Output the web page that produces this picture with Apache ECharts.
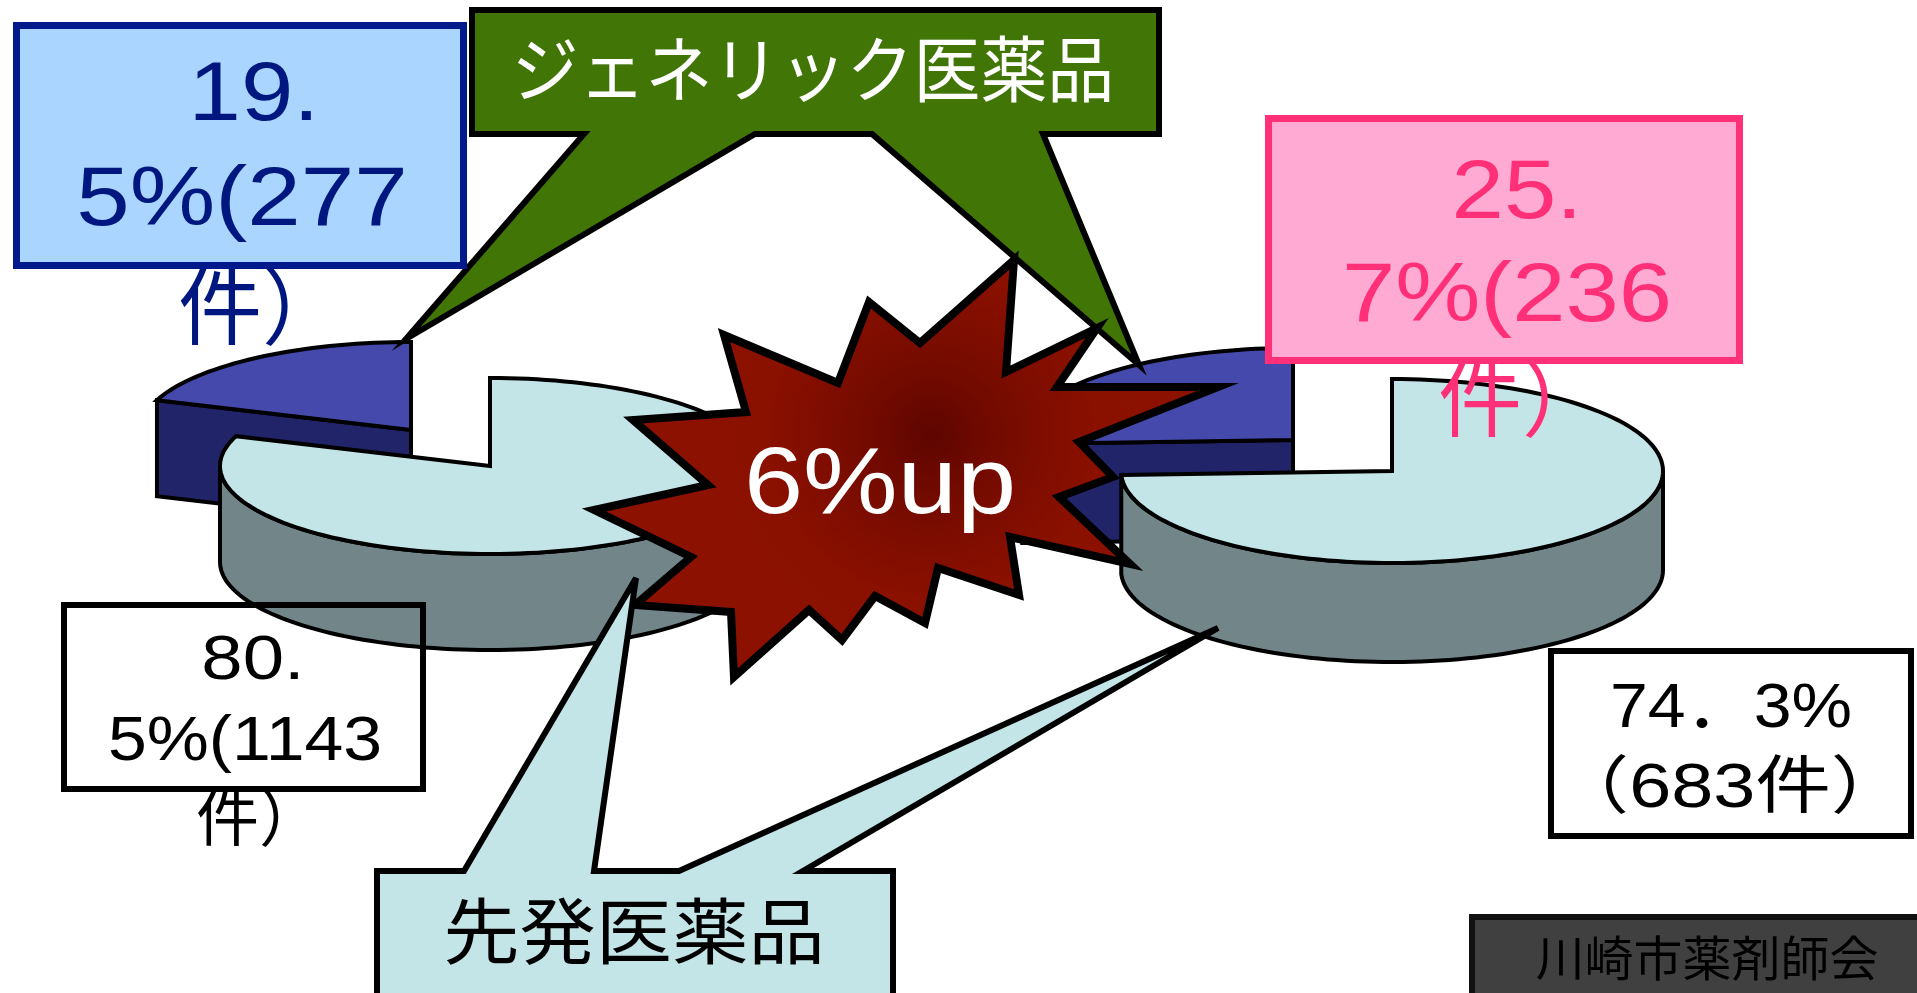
<!DOCTYPE html>
<html><head><meta charset="utf-8">
<style>html,body{margin:0;padding:0;background:#fff}#c{width:1917px;height:993px}</style>
<script src="https://cdn.jsdelivr.net/npm/echarts@6/dist/echarts.min.js"></script>
</head><body><div id="c"></div>
<script>
// ---- values ----
const pies = ['left', 'right'];
const categories = ['ジェネリック医薬品', '先発医薬品'];
const genericShare = [19.5, 25.7];
const brandShare = [80.5, 74.3];
const genericCount = [277, 236];
const brandCount = [1143, 683];
const upLabel = '6%up';
const sourceLabel = '川崎市薬剤師会';

// ---- layout ----
const geom = {
  left:  { main:{cx:490,cy:466}, small:{cx:411,cy:430}, rx:270, ry:88, depth:96 },
  right: { main:{cx:1392,cy:471}, small:{cx:1293,cy:440}, rx:271, ry:92, depth:99 }
};
const COL = { mainTop:'#c4e5e8', mainSide:'#72868a', smallTop:'#4449ab', smallSide:'#22246a' };
const FONT = '"Liberation Sans","Noto Sans CJK JP",sans-serif';

function pt(c, g, deg, drop) {
  const t = deg * Math.PI / 180;
  return [c.cx + g.rx * Math.sin(t), c.cy - g.ry * Math.cos(t) + (drop || 0)];
}
function arc(c, g, a, b, drop) {
  const out = [], n = Math.max(2, Math.ceil(Math.abs(b - a) / 2));
  for (let i = 0; i <= n; i++) out.push(pt(c, g, a + (b - a) * i / n, drop));
  return out;
}
function poly(points, fill, lw) {
  return { type:'polygon', shape:{points}, style:{fill, stroke:'#000', lineWidth:lw, lineJoin:'miter'} };
}
function renderSlice(params, api) {
  const g = geom[pies[api.value(0)]];
  const isMain = api.value(1) === 1;
  const share = api.value(2);
  const children = [];
  if (isMain) {
    const end = share * 3.6;
    const c = g.main;
    const sideEnd = Math.min(end, 270);
    const top = arc(c, g, 90, sideEnd, 0);
    const bot = arc(c, g, sideEnd, 90, g.depth);
    children.push(poly(top.concat(bot), COL.mainSide, 4));
    children.push(poly([[c.cx, c.cy]].concat(arc(c, g, 0, end, 0)), COL.mainTop, 4));
  } else {
    const start = 360 - share * 3.6;
    const c = g.small;
    const corner = pt(c, g, start, 0);
    children.push(poly([corner, [c.cx, c.cy], [c.cx, c.cy + g.depth], [corner[0], corner[1] + g.depth]], COL.smallSide, 4));
    children.push(poly([[c.cx, c.cy]].concat(arc(c, g, start, 360, 0)), COL.smallTop, 4));
  }
  return { type:'group', children };
}
function seriesFor(i) {
  return {
    type:'custom', coordinateSystem:'none', z:2, silent:true, clip:false,
    renderItem: renderSlice,
    encode:{ value:2 },
    data:[ [i, 0, genericShare[i], genericCount[i]], [i, 1, brandShare[i], brandCount[i]] ],
    animation:false
  };
}

// ---- annotation shapes ----
let zc = 10;
function txt(text, x, y, size, fill, sx) {
  return { type:'text', x, y, scaleX:sx || 1, z:zc++, silent:true,
    style:{ text, font:size + 'px ' + FONT, fill, align:'center', verticalAlign:'middle' } };
}
function box(x, y, w, h, fill, stroke, lw) {
  return { type:'rect', z:zc++, silent:true, shape:{x, y, width:w, height:h},
    style:{ fill, stroke, lineWidth:lw } };
}
function shape(points, fill, lw, miter) {
  return { type:'polygon', z:zc++, silent:true, shape:{points},
    style:{ fill, stroke:'#000', lineWidth:lw, lineJoin:'miter', miterLimit:miter } };
}
const starPts = [[724,335],[838,383],[869,302],[920,343],[1014,260],[1006,372],[1097,328],[1057,387],[1218,387],[1079,442],[1113,477],[1059,497],[1130,564],[1010,537],[1019,595],[938,568],[925,623],[875,596],[842,640],[809,610],[734,677],[731,612],[635,605],[691,557],[594,510],[708,485],[633,420],[746,412]];

const BLUE = '#00177f', PINK = '#ff2f78';
const graphics = [
  // generic callout
  shape([[472,10],[1159,10],[1159,134],[1043,134],[1139,365],[872,134],[755,134],[406,339],[584,134],[472,134]], '#417505', 6, 10),
  txt(categories[0], 813, 76, 72, '#fff', 0.93),
  // generic share, left
  txt('件）', 262, 315, 84, BLUE, 1.0),
  box(16.5, 25.5, 447, 240, '#a9d5ff', '#001a8c', 7),
  txt('19.', 254, 97, 84, BLUE, 1.12),
  txt('5%(277', 242, 202, 84, BLUE, 1.145),
  // generic share, right
  txt('件）', 1522, 407, 84, PINK, 1.0),
  box(1268.5, 118.5, 471, 242, '#ffaad2', PINK, 7),
  txt('25.', 1517, 195, 84, PINK, 1.12),
  txt('7%(236', 1507, 298, 84, PINK, 1.14),
  // brand share boxes
  txt('件）', 259, 823, 63, '#000', 1.0),
  box(64, 605, 359, 184, 'rgba(255,255,255,0)', '#000', 6),
  txt('80.', 253, 662, 63, '#000', 1.18),
  txt('5%(1143', 245, 743, 63, '#000', 1.107),
  box(1551, 651, 360, 185, '#fff', '#000', 6),
  txt('74．3%', 1731, 710, 63, '#000', 1.08),
  txt('（683件）', 1730, 790, 63, '#000', 1.2),
  // star
  { type:'polygon', z:zc++, silent:true, shape:{points:starPts},
    style:{ stroke:'#000', lineWidth:8, lineJoin:'miter', miterLimit:20,
      fill:new echarts.graphic.RadialGradient(0.54,0.42,0.55,[{offset:0,color:'#5e0500'},{offset:0.3,color:'#750b00'},{offset:0.7,color:'#8a1000'},{offset:1,color:'#8c1100'}]) } },
  txt(upLabel, 880, 487, 95, '#fff', 1.12),
  // brand callout
  shape([[377,871],[464,871],[636,578],[594,871],[679,871],[1218,628],[803,871],[893,871],[893,1000],[377,1000]], '#c4e5e8', 6, 4),
  txt(categories[1], 634, 938, 72, '#000', 1.06),
  // source
  box(1472, 917, 460, 90, '#404040', '#111', 6),
  txt(sourceLabel, 1707, 963, 48, '#000', 1.02)
];

const chart = echarts.init(document.getElementById('c'), null, { renderer:'canvas' });
chart.setOption({
  animation:false,
  backgroundColor:'#fff',
  tooltip:{ show:false },
  series: pies.map((_, i) => seriesFor(i)),
  graphic:{ elements: graphics }
});
</script></body></html>
